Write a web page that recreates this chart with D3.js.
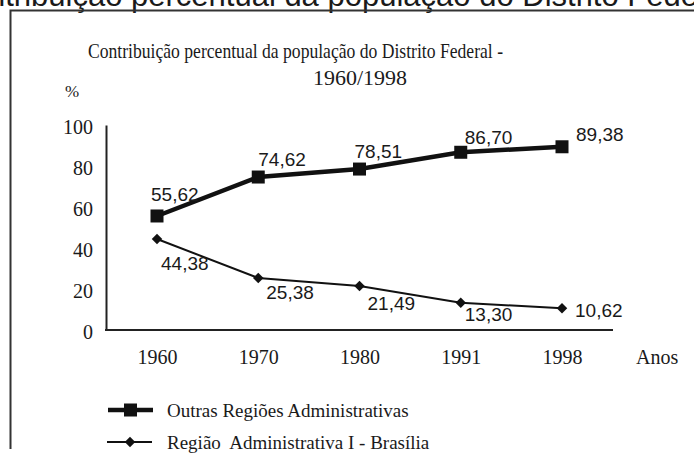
<!DOCTYPE html>
<html>
<head>
<meta charset="utf-8">
<script src="https://cdn.jsdelivr.net/npm/d3@7"></script>
<style>
  body { margin: 0; background: #fff; }
  svg { display: block; }
</style>
</head>
<body>
<div id="chart"></div>
<script>
// Data
const anos = ['1960', '1970', '1980', '1991', '1998'];
const outras = [55.62, 74.62, 78.51, 86.70, 89.38];
const brasilia = [44.38, 25.38, 21.49, 13.30, 10.62];
const yTicks = [0, 20, 40, 60, 80, 100];
const serieNomes = ['Outras Regiões Administrativas', 'Região  Administrativa I - Brasília'];

const fmt = v => v.toFixed(2).replace('.', ',');

const SERIF = '"Liberation Serif", "Times New Roman", serif';
const SANS = '"Liberation Sans", Arial, sans-serif';
const INK = '#1a1a1a';

const W = 694, H = 459;
const cfg = {
    plot: {left: 106, right: 613, top: 125, bottom: 330},
    xFirst: 157, xLast: 562
};

const svg = d3.select('#chart').append('svg')
    .attr('width', W).attr('height', H);

// Cropped heading from the page above the figure
svg.append('text')
    .attr('x', 131).attr('y', 6)
    .attr('font-family', SANS).attr('fill', INK)
    .attr('font-size', 31).attr('text-anchor', 'end')
    .text('Contribuição\u00a0');
svg.append('text')
    .attr('x', 131).attr('y', 6)
    .attr('font-family', SANS).attr('fill', INK)
    .attr('font-size', 31)
    .text('percentual da população do Distrito Federal');

// Frame
svg.append('path')
    .attr('d', `M10.5,${H - 10}V10.5H${W}`)
    .attr('fill', 'none').attr('stroke', '#333').attr('stroke-width', 2);

// Title
svg.append('text')
    .attr('font-family', SERIF).attr('fill', INK)
    .attr('x', 88).attr('y', 58).attr('font-size', 21)
    .attr('textLength', 415).attr('lengthAdjust', 'spacingAndGlyphs')
    .text('Contribuição percentual da população do Distrito Federal -');
svg.append('text')
    .attr('font-family', SERIF).attr('fill', INK)
    .attr('x', 313).attr('y', 85).attr('font-size', 21)
    .attr('textLength', 94).attr('lengthAdjust', 'spacingAndGlyphs')
    .text('1960/1998');
svg.append('text')
    .attr('font-family', SERIF).attr('fill', INK)
    .attr('x', 65).attr('y', 97).attr('font-size', 17)
    .text('%');

// Scales
const x = d3.scalePoint().domain(anos).range([cfg.xFirst, cfg.xLast]);
const y = d3.scaleLinear().domain([0, 100]).range([cfg.plot.bottom, cfg.plot.top]);

// Y axis
const yAxis = svg.append('g')
    .attr('transform', `translate(${cfg.plot.left},0)`)
    .call(d3.axisLeft(y).tickValues(yTicks).tickSize(0).tickSizeOuter(0).tickPadding(13))
    .attr('font-family', SERIF).attr('font-size', 20);
yAxis.select('.domain').attr('stroke', '#222').attr('stroke-width', 2);
yAxis.selectAll('text').attr('fill', INK).attr('dy', '0.4em');

// X axis
svg.append('line')
    .attr('x1', cfg.plot.left - 1).attr('x2', cfg.plot.right)
    .attr('y1', cfg.plot.bottom).attr('y2', cfg.plot.bottom)
    .attr('stroke', '#222').attr('stroke-width', 2);
const xAxis = svg.append('g')
    .attr('transform', `translate(0,${cfg.plot.bottom})`)
    .call(d3.axisBottom(x).tickSize(0).tickPadding(20))
    .attr('font-family', SERIF).attr('font-size', 20);
xAxis.select('.domain').remove();
xAxis.selectAll('text').attr('fill', INK);
svg.append('text')
    .attr('font-family', SERIF).attr('fill', INK)
    .attr('x', 636).attr('y', 364).attr('font-size', 20)
    .text('Anos');

// Lines
const line = vals => d3.line().x((d, i) => x(anos[i])).y(d => y(d))(vals);

svg.append('path').attr('d', line(brasilia))
    .attr('fill', 'none').attr('stroke', '#111').attr('stroke-width', 2);
svg.append('path').attr('d', line(outras))
    .attr('fill', 'none').attr('stroke', '#111').attr('stroke-width', 4.5);

const diamond = d3.symbol().type(d3.symbolDiamond2).size(70);

svg.selectAll('.m-bras').data(brasilia).enter().append('path')
    .attr('transform', (d, i) => `translate(${x(anos[i])},${y(d)})`)
    .attr('d', diamond).attr('fill', '#111');
svg.selectAll('.m-out').data(outras).enter().append('rect')
    .attr('x', (d, i) => x(anos[i]) - 6.5).attr('y', d => y(d) - 6.5)
    .attr('width', 13).attr('height', 13).attr('fill', '#111');

// Value labels (offsets from each marker)
const offOutras = [[-6, -15], [0, -11], [-5, -11], [4, -8], [14, -6]];
const offBras = [[4, 31], [8, 21], [8, 24], [4, 18], [13, 9]];

svg.selectAll('.l-out').data(outras).enter().append('text')
    .attr('font-family', SANS).attr('fill', INK).attr('font-size', 19)
    .attr('x', (d, i) => x(anos[i]) + offOutras[i][0])
    .attr('y', (d, i) => y(d) + offOutras[i][1])
    .text(fmt);
svg.selectAll('.l-bras').data(brasilia).enter().append('text')
    .attr('font-family', SANS).attr('fill', INK).attr('font-size', 19)
    .attr('x', (d, i) => x(anos[i]) + offBras[i][0])
    .attr('y', (d, i) => y(d) + offBras[i][1])
    .text(fmt);

// Legend
const lg = svg.append('g');
const rows = [410, 442];
lg.append('line').attr('x1', 108).attr('x2', 153).attr('y1', rows[0]).attr('y2', rows[0])
    .attr('stroke', '#111').attr('stroke-width', 4.5);
lg.append('rect').attr('x', 124).attr('y', rows[0] - 6.5).attr('width', 13).attr('height', 13).attr('fill', '#111');
lg.append('line').attr('x1', 107).attr('x2', 152).attr('y1', rows[1]).attr('y2', rows[1])
    .attr('stroke', '#111').attr('stroke-width', 2);
lg.append('path').attr('transform', `translate(130,${rows[1]})`).attr('d', diamond).attr('fill', '#111');
lg.selectAll('.lt').data(serieNomes).enter().append('text')
    .attr('font-family', SERIF).attr('fill', INK).attr('font-size', 19)
    .attr('x', 167).attr('y', (d, i) => rows[i]).attr('dy', '0.35em')
    .style('white-space', 'pre')
    .text(d => d);
</script>
</body>
</html>
